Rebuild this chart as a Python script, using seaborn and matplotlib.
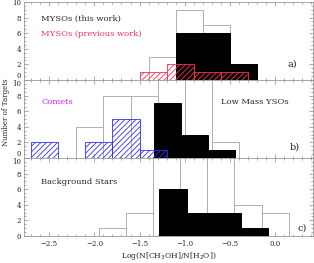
import numpy as np
import pandas as pd
import matplotlib.pyplot as plt
import seaborn as sns
from matplotlib.ticker import MultipleLocator

# ---- data: bin edges + counts ----
# panel a) MYSOs
a_open_edges = [-1.4, -1.1, -0.8, -0.5, -0.2]
a_open_counts = [3, 9, 7, 2]
a_fill_edges = [-1.1, -0.8, -0.5, -0.2]
a_fill_counts = [6, 6, 2]
a_prev_edges = [-1.5, -1.2, -0.9, -0.6, -0.3]
a_prev_counts = [1, 2, 1, 1]

# panel b) low mass YSOs + comets
b_open_edges = [-2.2, -1.9, -1.6, -1.3, -1.0, -0.7, -0.4]
b_open_counts = [4, 8, 8, 12, 11, 2]
b_fill_edges = [-1.34, -1.04, -0.74, -0.44]
b_fill_counts = [7, 3, 1]
comet_edges = [-2.7, -2.4, -2.1, -1.8, -1.5, -1.2]
comet_counts = [2, 0, 2, 5, 1]

# panel c) background stars
c_open_edges = [-1.95, -1.65, -1.35, -1.05, -0.75, -0.45, -0.15, 0.15]
c_open_counts = [1, 3, 12, 11, 11, 4, 3]
c_fill_edges = [-1.28, -0.98, -0.68, -0.38, -0.08]
c_fill_counts = [6, 3, 3, 1]

sns.set_style("ticks")
plt.rcParams['font.family'] = ['DejaVu Serif']
plt.rcParams['hatch.linewidth'] = 0.6


def hist(ax, edges, counts, **kw):
    # counts are already binned -> feed bin centres with weights
    e = np.array(edges)
    df = pd.DataFrame({'x': (e[:-1] + e[1:]) / 2, 'n': counts})
    sns.histplot(data=df, x='x', weights='n', bins=list(edges), ax=ax,
                 element='bars', **kw)


fig = plt.figure(figsize=(3.14, 2.63), dpi=100)
h = 0.2966
bottoms = [0.6959, 0.3993, 0.1027]
axes = [fig.add_axes([0.076, b, 0.921, h]) for b in bottoms]
txt = dict(fontsize=6, va='center')

# a)
ax = axes[0]
hist(ax, a_open_edges, a_open_counts, fill=False, color='#b0b0b0', linewidth=0.7)
hist(ax, a_fill_edges, a_fill_counts, fill=True, color='black', alpha=1,
     edgecolor='black', linewidth=0.7)
hist(ax, a_prev_edges, a_prev_counts, fill=False, color='#ff3050',
     hatch='//////', linewidth=0.6)
ax.text(0.06, 0.785, 'MYSOs (this work)', transform=ax.transAxes, **txt)
ax.text(0.06, 0.584, 'MYSOs (previous work)', transform=ax.transAxes,
        color='#ff3060', **txt)
ax.text(0.912, 0.21, 'a)', transform=ax.transAxes, fontsize=7, va='center')

# b)
ax = axes[1]
hist(ax, b_open_edges, b_open_counts, fill=False, color='#b0b0b0', linewidth=0.7)
hist(ax, b_fill_edges, b_fill_counts, fill=True, color='black', alpha=1,
     edgecolor='black', linewidth=0.7)
hist(ax, comet_edges, comet_counts, fill=False, color='#3030ff',
     hatch='//////', linewidth=0.6)
ax.text(0.06, 0.713, 'Comets', transform=ax.transAxes, color='#cc22ff', **txt)
ax.text(0.68, 0.713, 'Low Mass YSOs', transform=ax.transAxes, **txt)
ax.text(0.92, 0.14, 'b)', transform=ax.transAxes, fontsize=7, va='center')
ax.set_ylabel('Number of Targets', fontsize=5)
ax.yaxis.set_label_coords(-0.048, 0.58)

# c)
ax = axes[2]
hist(ax, c_open_edges, c_open_counts, fill=False, color='#b0b0b0', linewidth=0.7)
hist(ax, c_fill_edges, c_fill_counts, fill=True, color='black', alpha=1,
     edgecolor='black', linewidth=0.7)
ax.text(0.06, 0.695, 'Background Stars', transform=ax.transAxes, **txt)
ax.text(0.945, 0.1, 'c)', transform=ax.transAxes, fontsize=7, va='center')
ax.set_xlabel('Log(N[CH$_3$OH]/N[H$_2$O])', fontsize=5.5, labelpad=1)

for i, ax in enumerate(axes):
    ax.set_xlim(-2.78, 0.42)
    ax.set_ylim(0, 10)
    ax.xaxis.set_major_locator(MultipleLocator(0.5))
    ax.xaxis.set_minor_locator(MultipleLocator(0.1))
    ax.yaxis.set_major_locator(MultipleLocator(2))
    ax.yaxis.set_minor_locator(MultipleLocator(0.5))
    ax.tick_params(which='both', direction='in', top=True, right=True,
                   labelsize=5, width=0.5, color='#888888', pad=2)
    ax.tick_params(axis='x', pad=3)
    ax.tick_params(which='major', length=3)
    ax.tick_params(which='minor', length=1.5)
    for sp in ax.spines.values():
        sp.set_visible(True)
        sp.set_color('#999999')
        sp.set_linewidth(0.6)
    if i < 2:
        ax.set_xlabel('')
        ax.tick_params(labelbottom=False)
    if i != 1:
        ax.set_ylabel('')
    # stacked panels: keep the shared 0 / 10 labels apart
    fig.canvas.draw()
    for lab in ax.get_yticklabels():
        if lab.get_text() == '0' and i < 2:
            lab.set_va('bottom')
        if lab.get_text() == '10' and i > 0:
            lab.set_va('top')

fig.savefig('out.png', dpi=100)
